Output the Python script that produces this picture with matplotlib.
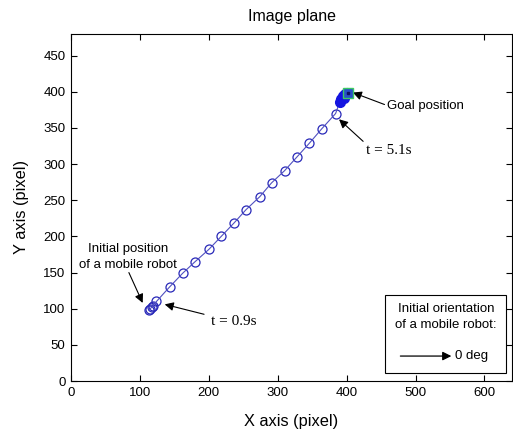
import matplotlib
matplotlib.use("Agg")
import matplotlib.pyplot as plt

# ---- data ----
traj_x = [113, 115, 117, 119, 124, 143, 162, 180, 200, 218, 237, 254, 274, 291, 310, 328, 346, 364, 384]
traj_y = [98, 100, 102, 104, 110, 130, 149, 165, 182, 200, 219, 237, 255, 274, 291, 310, 329, 349, 370]
final_x = [390, 392, 395, 398, 400, 396]
final_y = [386, 390, 394, 397, 398, 392]
goal_x = [402]
goal_y = [399]

x_ticks = [0, 100, 200, 300, 400, 500, 600]
y_ticks = [0, 50, 100, 150, 200, 250, 300, 350, 400, 450]

plt.rcParams['font.family'] = ['Liberation Sans', 'DejaVu Sans']

fig = plt.figure(figsize=(5.13, 4.34), dpi=100)
ax = fig.add_axes([71/513, 1-381/434, 441/513, 347/434])

ax.plot(traj_x, traj_y, 'o', ms=6.5, mfc='none', mec='#2828b8', mew=0.9, zorder=2)
ax.plot(traj_x + final_x[:1], traj_y + final_y[:1], '-', color='#5050c0', lw=0.8, zorder=3)
ax.plot(final_x, final_y, 'o', ms=7, mfc='#1414e0', mec='#1414e0', zorder=4)
ax.plot(goal_x, goal_y, 's', ms=7, mfc='#2850c8', mec='#3cc864', mew=1.0, zorder=5)
ax.plot(goal_x, goal_y, 's', ms=1.8, mfc='#101060', mec='#101060', zorder=6)

ax.set_xlim(0, 640)
ax.set_ylim(0, 480)
ax.set_xticks(x_ticks)
ax.set_yticks(y_ticks)
ax.tick_params(direction='in', top=True, right=True, length=4, width=0.8, labelsize=9.5, pad=4)
for s in ax.spines.values():
    s.set_linewidth(0.8)

ax.set_title('Image plane', fontsize=11.5, pad=9)
ax.set_xlabel('X axis (pixel)', fontsize=11.8)
ax.set_ylabel('Y axis (pixel)', fontsize=11.8)
ax.xaxis.set_label_coords(0.5, -0.095)
ax.yaxis.set_label_coords(-0.095, 0.5)

arrow = dict(arrowstyle='-|>', color='black', lw=0.8, mutation_scale=13, shrinkA=0, shrinkB=0)

ax.annotate('', xy=(104, 108), xytext=(84, 150), arrowprops=arrow)
ax.text(83, 183, 'Initial position', ha='center', va='center', fontsize=9.5)
ax.text(83, 161, 'of a mobile robot', ha='center', va='center', fontsize=9.5)

ax.annotate('t = 0.9s', xy=(136, 106), xytext=(203, 82), fontsize=11,
            family=['Liberation Serif', 'DejaVu Serif'], va='center', ha='left',
            arrowprops=dict(arrow, shrinkA=3))
ax.annotate('t = 5.1s', xy=(389, 362), xytext=(428, 319), fontsize=11,
            family=['Liberation Serif', 'DejaVu Serif'], va='center', ha='left',
            arrowprops=dict(arrow, shrinkA=0, relpos=(0.0, 1.0)))
ax.annotate('Goal position', xy=(409, 399), xytext=(459, 381), fontsize=9.5,
            va='center', ha='left', arrowprops=dict(arrow, relpos=(0.0, 0.5)))

# orientation box
box = plt.Rectangle((456, 11.5), 176, 108, fill=True, facecolor='white',
                    edgecolor='black', lw=0.8, zorder=6)
ax.add_patch(box)
ax.text(544, 100, 'Initial orientation', ha='center', va='center', fontsize=9.5, zorder=7)
ax.text(544, 77, 'of a mobile robot:', ha='center', va='center', fontsize=9.5, zorder=7)
ax.annotate('', xy=(552, 34.5), xytext=(478, 34.5),
            arrowprops=dict(arrowstyle='-|>', color='black', lw=0.9, mutation_scale=13,
                            shrinkA=0, shrinkB=0), zorder=7)
ax.text(557, 34.5, '0 deg', ha='left', va='center', fontsize=9.5, zorder=7)

fig.savefig('out.png', dpi=100)
